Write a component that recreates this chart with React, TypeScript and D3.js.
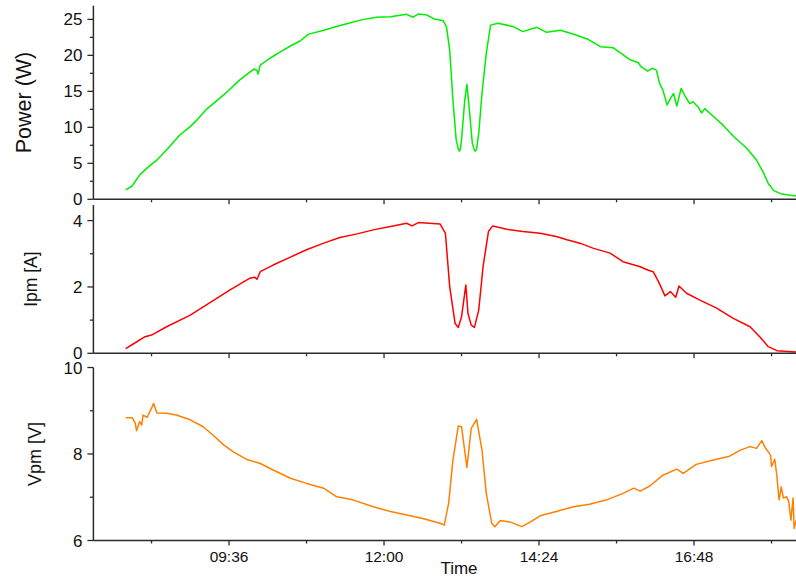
import React from "react";
import * as d3 from "d3";

// ---- data (time of day, value) ----
const powerTimes = ["08:00","08:06","08:13","08:21","08:29","08:38","08:50","09:00","09:06","09:15","09:31","09:46","09:59","10:02","10:03","10:05","10:14","10:26","10:33","10:42","10:50","11:04","11:16","11:28","11:41","11:53","12:06","12:21","12:27","12:32","12:40","12:46","12:55","12:58","13:01","13:04","13:07","13:09","13:10","13:11","13:12","13:15","13:17","13:19","13:22","13:24","13:25","13:26","13:28","13:31","13:35","13:39","13:46","14:00","14:09","14:22","14:31","14:44","14:57","15:10","15:21","15:33","15:39","15:49","15:56","15:59","16:05","16:09","16:13","16:16","16:19","16:23","16:26","16:29","16:32","16:36","16:40","16:44","16:47","16:52","16:55","16:58","17:06","17:15","17:25","17:37","17:46","17:52","17:57","18:02","18:09","18:23"];
const powerValues = [1.3,1.85,3.4,4.5,5.45,6.85,8.9,10.1,11.0,12.5,14.5,16.6,18.1,17.9,17.4,18.65,19.6,20.7,21.3,22.0,22.95,23.5,24.0,24.5,25.0,25.3,25.35,25.7,25.3,25.75,25.6,25.1,24.8,24.0,20.7,13.8,8.3,7.0,6.7,7.0,8.3,13.8,16.0,12.9,7.8,6.8,6.7,7.0,9.2,14.7,20.3,24.2,24.45,24.0,23.3,23.9,23.2,23.5,22.9,22.2,21.2,21.05,20.4,19.35,19.0,18.4,17.8,18.2,17.95,16.1,15.2,13.1,14.0,14.7,12.95,15.4,14.25,13.3,13.55,12.8,12.0,12.6,11.5,10.3,8.7,7.1,5.45,3.85,2.2,1.2,0.75,0.45];

const currentTimes = ["08:00","08:07","08:18","08:24","08:38","09:00","09:15","09:37","09:55","10:00","10:02","10:05","10:17","10:33","10:48","11:04","11:19","11:35","11:50","12:06","12:21","12:26","12:32","12:52","12:57","13:01","13:06","13:09","13:12","13:16","13:18","13:21","13:24","13:28","13:32","13:37","13:41","13:54","14:09","14:25","14:40","14:50","15:02","15:14","15:30","15:42","15:58","16:05","16:10","16:15","16:21","16:26","16:31","16:34","16:41","16:53","17:09","17:24","17:40","17:49","17:57","18:05","18:23"];
const currentValues = [0.14,0.28,0.5,0.55,0.8,1.15,1.46,1.91,2.26,2.29,2.23,2.46,2.66,2.9,3.12,3.32,3.49,3.6,3.72,3.82,3.92,3.84,3.94,3.9,3.62,2.01,0.9,0.78,1.1,2.06,1.2,0.85,0.78,1.31,2.61,3.67,3.84,3.74,3.67,3.62,3.52,3.42,3.32,3.17,3.02,2.76,2.61,2.51,2.46,2.16,1.73,1.86,1.69,2.03,1.81,1.61,1.36,1.06,0.8,0.5,0.2,0.08,0.04];

const voltageTimes = ["08:00","08:06","08:09","08:10","08:13","08:15","08:16","08:20","08:24","08:26","08:29","08:38","08:47","09:00","09:12","09:21","09:31","09:40","09:52","10:05","10:17","10:33","10:48","11:04","11:16","11:31","11:50","12:06","12:21","12:36","12:52","12:56","13:00","13:04","13:09","13:12","13:17","13:21","13:26","13:31","13:35","13:40","13:43","13:48","13:57","14:08","14:16","14:25","14:40","14:56","15:11","15:27","15:42","15:52","15:58","16:07","16:19","16:32","16:38","16:50","17:06","17:21","17:31","17:40","17:46","17:51","17:54","17:59","18:00","18:03","18:05","18:07","18:09","18:11","18:14","18:16","18:18","18:20","18:21","18:23"];
const voltageValues = [8.84,8.84,8.71,8.54,8.75,8.67,8.9,8.85,9.06,9.17,8.95,8.94,8.9,8.79,8.63,8.44,8.21,8.05,7.88,7.78,7.63,7.44,7.32,7.21,7.01,6.94,6.78,6.67,6.59,6.51,6.4,6.36,6.86,7.86,8.65,8.63,7.69,8.59,8.8,8.09,7.09,6.4,6.32,6.46,6.43,6.32,6.43,6.57,6.67,6.78,6.84,6.94,7.09,7.21,7.14,7.26,7.51,7.65,7.55,7.76,7.86,7.95,8.09,8.17,8.13,8.31,8.15,7.98,7.71,7.88,7.48,6.94,7.24,6.98,7.01,6.9,6.47,6.98,6.28,6.47];

const xMajorTicks = ["09:36","12:00","14:24","16:48"];
const xMinorTicks = ["08:24","10:48","13:12","15:36","18:00"];
const xDomain = ["07:30","18:23"];

const powerTicks = [0,5,10,15,20,25];
const powerMinor = [2.5,7.5,12.5,17.5,22.5];
const currentTicks = [0,2,4];
const currentMinor = [1,3];
const voltageTicks = [6,8,10];
const voltageMinor = [7,9];

const parse = d3.timeParse("%H:%M");
const FONT = "'Liberation Sans', Arial, sans-serif";
const AXIS = "#2b2b2b";

const W = 796, H = 579;
const x = d3.scaleTime().domain(xDomain.map(s => parse(s)!)).range([93.4, 796.3]);

type PanelProps = {
  times: string[]; values: number[]; color: string;
  yScale: d3.ScaleLinear<number, number>;
  major: number[]; minor: number[];
  label: string; labelX: number; labelSize: number;
  tickLabels: boolean; yTop: number; yBottom: number;
};

function Panel(p: PanelProps) {
  const pts = p.times.map((t, i) => [parse(t)!, p.values[i]] as [Date, number]);
  const line = d3.line<[Date, number]>().x(d => x(d[0])).y(d => p.yScale(d[1]));
  const x0 = x.range()[0];
  const yMid = (p.yTop + p.yBottom) / 2;
  return (
    <g>
      <path d={line(pts) || ""} fill="none" stroke={p.color} strokeWidth={1.5} strokeLinejoin="round" />
      {/* y axis */}
      <line x1={x0} x2={x0} y1={p.yTop} y2={p.yBottom} stroke={AXIS} strokeWidth={1.5} />
      {p.major.map(v => (
        <g key={"ym" + v}>
          <line x1={x0 - 6} x2={x0} y1={p.yScale(v)} y2={p.yScale(v)} stroke={AXIS} strokeWidth={1.3} />
          <text x={x0 - 11} y={p.yScale(v)} dy="0.36em" textAnchor="end" fontSize={17} fontFamily={FONT} fill="#111">{v}</text>
        </g>
      ))}
      {p.minor.map(v => (
        <line key={"yn" + v} x1={x0 - 3.5} x2={x0} y1={p.yScale(v)} y2={p.yScale(v)} stroke={AXIS} strokeWidth={1.3} />
      ))}
      {/* x axis */}
      <line x1={x0} x2={W} y1={p.yBottom} y2={p.yBottom} stroke={AXIS} strokeWidth={1.5} />
      {xMajorTicks.map(t => (
        <g key={"xm" + t}>
          <line x1={x(parse(t)!)} x2={x(parse(t)!)} y1={p.yBottom} y2={p.yBottom + 5} stroke={AXIS} strokeWidth={1.3} />
          {p.tickLabels && (
            <text x={x(parse(t)!)} y={p.yBottom + 21} textAnchor="middle" fontSize={15.5} fontFamily={FONT} fill="#111">{t}</text>
          )}
        </g>
      ))}
      {xMinorTicks.map(t => (
        <line key={"xn" + t} x1={x(parse(t)!)} x2={x(parse(t)!)} y1={p.yBottom} y2={p.yBottom + 3} stroke={AXIS} strokeWidth={1.3} />
      ))}
      <text transform={`translate(${p.labelX},${yMid}) rotate(-90)`} textAnchor="middle" fontSize={p.labelSize} fontFamily={FONT} fill="#111">{p.label}</text>
    </g>
  );
}

export default function App() {
  const yP = d3.scaleLinear().domain([0, 26.9]).range([199.3, 5.7]);
  const yI = d3.scaleLinear().domain([0, 4.47]).range([353.3, 205]);
  const yV = d3.scaleLinear().domain([6, 10]).range([540.5, 367.5]);
  return (
    <svg width={W} height={H} style={{ position: "absolute", left: 0, top: 0, background: "#fff" }}>
      <rect width={W} height={H} fill="#fff" />
      <Panel times={powerTimes} values={powerValues} color="#00ee00" yScale={yP} major={powerTicks} minor={powerMinor}
        label="Power (W)" labelX={31} labelSize={21.5} tickLabels={false} yTop={5.7} yBottom={199.3} />
      <Panel times={currentTimes} values={currentValues} color="#ff0000" yScale={yI} major={currentTicks} minor={currentMinor}
        label="Ipm [A]" labelX={37} labelSize={17.5} tickLabels={false} yTop={205} yBottom={353.3} />
      <Panel times={voltageTimes} values={voltageValues} color="#ff8000" yScale={yV} major={voltageTicks} minor={voltageMinor}
        label="Vpm [V]" labelX={41} labelSize={18} tickLabels={true} yTop={367.5} yBottom={540.5} />
      <text x={459} y={574} textAnchor="middle" fontSize={17} fontFamily={FONT} fill="#111">Time</text>
    </svg>
  );
}
